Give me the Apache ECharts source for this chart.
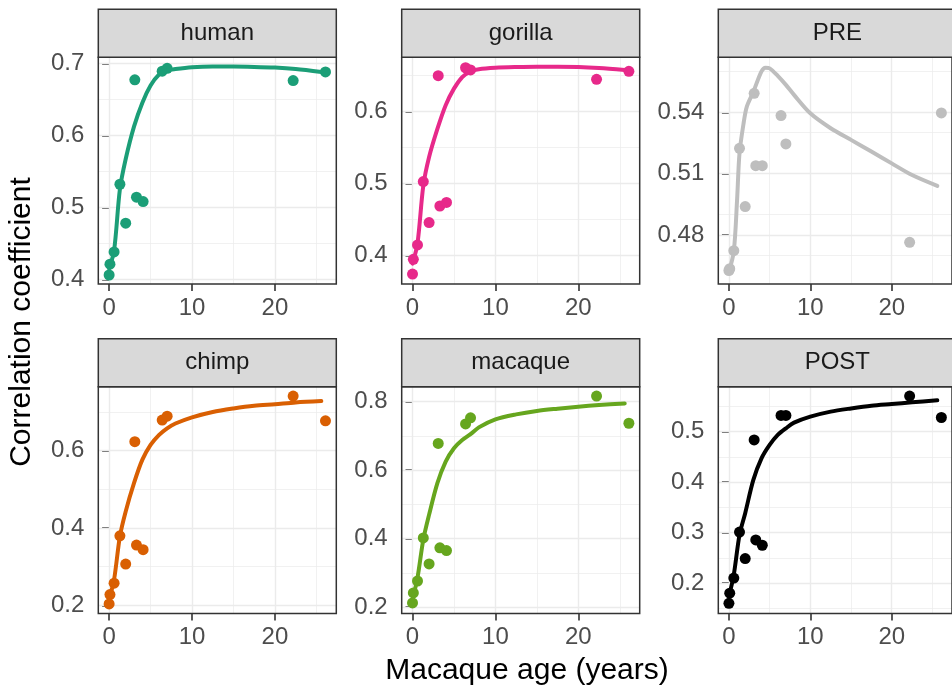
<!DOCTYPE html>
<html>
<head>
<meta charset="utf-8">
<script src="https://cdn.jsdelivr.net/npm/echarts@6/dist/echarts.min.js"></script>
<style>
  html, body { margin: 0; padding: 0; background: #ffffff; }
  #chart { width: 952px; height: 691px; }
</style>
</head>
<body>
<div id="chart"></div>
<script>
// Facet names and colours
const panelNames = ['human', 'gorilla', 'PRE', 'chimp', 'macaque', 'POST'];
const panelColors = ['#1B9E77', '#E7298A', '#BEBEBE', '#D95F02', '#66A61E', '#000000'];

// Macaque ages (years) of the samples
const ages = [0.0, 0.1, 0.6, 1.3, 2.0, 3.1, 3.3, 4.1, 6.4, 7.0, 22.2, 26.1];

// Correlation coefficients per comparison
const humanR   = [0.406, 0.421, 0.438, 0.532, 0.478, 0.677, 0.514, 0.508, 0.689, 0.693, 0.676, 0.688];
const gorillaR = [0.3745, 0.395, 0.415, 0.503, 0.446, 0.650, 0.469, 0.474, 0.661, 0.658, 0.645, 0.656];
const preR     = [0.4626, 0.4635, 0.4723, 0.5224, 0.4939, 0.5493, 0.5139, 0.5139, 0.5384, 0.5245, 0.4764, 0.5397];
const chimpR   = [0.204, 0.228, 0.2575, 0.380, 0.307, 0.623, 0.356, 0.344, 0.679, 0.689, 0.741, 0.677];
const macaqueR = [0.212, 0.241, 0.276, 0.402, 0.326, 0.678, 0.373, 0.365, 0.735, 0.753, 0.8165, 0.737];
const postR    = [0.160, 0.180, 0.210, 0.301, 0.2485, 0.4835, 0.2855, 0.275, 0.532, 0.532, 0.5705, 0.528];

// Smoothed trend curves
const fitAges    = [0, 0.6, 1.3, 2, 3, 4, 5, 6, 7, 8, 10, 12.5, 15, 17.5, 20, 22.5, 25.6];
const humanFit   = [0.415, 0.440, 0.525, 0.567, 0.612, 0.645, 0.669, 0.684, 0.690, 0.692, 0.6945, 0.6955, 0.6955, 0.695, 0.694, 0.692, 0.688];
const gorillaFit = [0.389, 0.417, 0.497, 0.537, 0.576, 0.609, 0.632, 0.648, 0.656, 0.659, 0.661, 0.662, 0.6625, 0.6625, 0.662, 0.6606, 0.658];
const chimpFit   = [0.2155, 0.267, 0.3785, 0.443, 0.516, 0.576, 0.6146, 0.640, 0.6575, 0.670, 0.686, 0.700, 0.709, 0.716, 0.720, 0.7245, 0.728];
const macaqueFit = [0.222, 0.2855, 0.397, 0.470, 0.562, 0.625, 0.664, 0.688, 0.705, 0.725, 0.7485, 0.763, 0.773, 0.7796, 0.7854, 0.790, 0.795];
const postFit    = [0.1737, 0.2166, 0.2956, 0.3385, 0.4044, 0.447, 0.4736, 0.4934, 0.5066, 0.5178, 0.5297, 0.5396, 0.546, 0.5514, 0.5547, 0.558, 0.562];
const preFitAges = [0, 0.6, 1.0, 1.3, 1.8, 2.2, 3, 4, 4.5, 5, 6, 7, 8, 10, 12.5, 15, 17.5, 20, 22.5, 25.6];
const preFit     = [0.462, 0.472, 0.497, 0.520, 0.5346, 0.5428, 0.550, 0.560, 0.5618, 0.5615, 0.5578, 0.5534, 0.5485, 0.5395, 0.5322, 0.5265, 0.5208, 0.515, 0.5093, 0.504];

// Axis breaks
const xMajor = [0, 10, 20];
const xMinor = [5, 15, 25];
const xLimits = [-1.305, 27.405];
const yMajor = [
  [0.4, 0.5, 0.6, 0.7],
  [0.4, 0.5, 0.6],
  [0.48, 0.51, 0.54],
  [0.2, 0.4, 0.6],
  [0.2, 0.4, 0.6, 0.8],
  [0.2, 0.3, 0.4, 0.5]
];
const yMinor = [
  [0.45, 0.55, 0.65],
  [0.45, 0.55, 0.65],
  [0.465, 0.495, 0.525, 0.555],
  [0.3, 0.5, 0.7],
  [0.3, 0.5, 0.7],
  [0.15, 0.25, 0.35, 0.45, 0.55]
];
const yLimits = [
  [0.3935, 0.7083],
  [0.3607, 0.6755],
  [0.456, 0.5669],
  [0.1794, 0.7652],
  [0.1813, 0.8438],
  [0.140, 0.589]
];

const pointSets = [humanR, gorillaR, preR, chimpR, macaqueR, postR];
const fitSets = [
  [fitAges, humanFit], [fitAges, gorillaFit], [preFitAges, preFit],
  [fitAges, chimpFit], [fitAges, macaqueFit], [fitAges, postFit]
];

// Facet layout (pixels)
const colLeft = [98.3, 401.7, 718.3];
const rowTop = [57.3, 386.7];
const panelW = 238;
const panelH = 226.7;
const stripH = 48;

const FONT = '"Liberation Sans", Arial, Helvetica, sans-serif';
const GRID_COLOR = '#EBEBEB';
const BORDER = '#333333';

const grids = [], xAxes = [], yAxes = [], series = [], graphics = [];

panelNames.forEach((name, i) => {
  const col = i % 3, row = Math.floor(i / 3);
  const left = colLeft[col], top = rowTop[row];

  grids.push({
    left: left, top: top, width: panelW, height: panelH,
    show: true, backgroundColor: 'transparent',
    borderColor: BORDER, borderWidth: 1.5, z: 10
  });

  xAxes.push({
    type: 'value', gridIndex: i, min: xLimits[0], max: xLimits[1],
    axisLine: { show: false },
    splitLine: { show: false },
    axisTick: { show: true, customValues: xMajor, length: 7, lineStyle: { color: BORDER, width: 1.6 } },
    axisLabel: { show: true, customValues: xMajor, margin: 12, color: '#4D4D4D', fontSize: 24, fontFamily: FONT }
  });

  yAxes.push({
    type: 'value', gridIndex: i, min: yLimits[i][0], max: yLimits[i][1],
    axisLine: { show: false },
    splitLine: { show: false },
    axisTick: { show: true, customValues: yMajor[i], length: 7, lineStyle: { color: BORDER, width: 1.6 } },
    axisLabel: {
      show: true, customValues: yMajor[i], margin: 14, color: '#4D4D4D', fontSize: 24, fontFamily: FONT,
      formatter: v => String(+(+v).toFixed(3))
    }
  });

  // panel grid lines, kept beneath the data
  const lines = [];
  xMinor.forEach(v => lines.push({ xAxis: v, lineStyle: { width: 0.7 } }));
  yMinor[i].forEach(v => lines.push({ yAxis: v, lineStyle: { width: 0.7 } }));
  xMajor.forEach(v => lines.push({ xAxis: v, lineStyle: { width: 1.4 } }));
  yMajor[i].forEach(v => lines.push({ yAxis: v, lineStyle: { width: 1.4 } }));
  series.push({
    type: 'scatter', xAxisIndex: i, yAxisIndex: i, data: [], z: 1, silent: true,
    markLine: {
      z: 1, silent: true, symbol: ['none', 'none'], animation: false,
      label: { show: false },
      emphasis: { disabled: true },
      lineStyle: { color: GRID_COLOR, type: 'solid' },
      data: lines
    }
  });

  // observed points
  series.push({
    type: 'scatter', xAxisIndex: i, yAxisIndex: i, z: 3,
    symbolSize: 11,
    itemStyle: { color: panelColors[i], opacity: 1, borderWidth: 0 },
    data: ages.map((a, k) => [a, pointSets[i][k]])
  });

  // smoothed trend
  const [fx, fy] = fitSets[i];
  series.push({
    type: 'line', xAxisIndex: i, yAxisIndex: i, z: 4,
    smooth: 0.3, showSymbol: false, symbol: 'none',
    lineStyle: { color: panelColors[i], width: 4, cap: 'round', join: 'round' },
    data: fx.map((a, k) => [a, fy[k]])
  });

  // facet strip
  graphics.push({
    type: 'rect', silent: true, z: 20,
    shape: { x: left, y: top - stripH, width: panelW, height: stripH },
    style: { fill: '#D9D9D9', stroke: BORDER, lineWidth: 1.5 }
  });
  graphics.push({
    type: 'text', silent: true, z: 21,
    x: left + panelW / 2, y: top - stripH / 2,
    style: { text: name, fill: '#1A1A1A', font: '24px ' + FONT, textAlign: 'center', textVerticalAlign: 'middle' }
  });
});

// axis titles
graphics.push({
  type: 'text', silent: true, z: 21,
  x: 527, y: 671,
  style: { text: 'Macaque age (years)', fill: '#000000', font: '30px ' + FONT, textAlign: 'center', textVerticalAlign: 'middle' }
});
graphics.push({
  type: 'text', silent: true, z: 21,
  x: 22, y: 322, rotation: Math.PI / 2,
  style: { text: 'Correlation coefficient', fill: '#000000', font: '30px ' + FONT, textAlign: 'center', textVerticalAlign: 'middle' }
});

const chart = echarts.init(document.getElementById('chart'), null, { renderer: 'canvas' });
chart.setOption({
  animation: false,
  backgroundColor: '#ffffff',
  grid: grids,
  xAxis: xAxes,
  yAxis: yAxes,
  series: series,
  graphic: graphics
});
</script>
</body>
</html>
